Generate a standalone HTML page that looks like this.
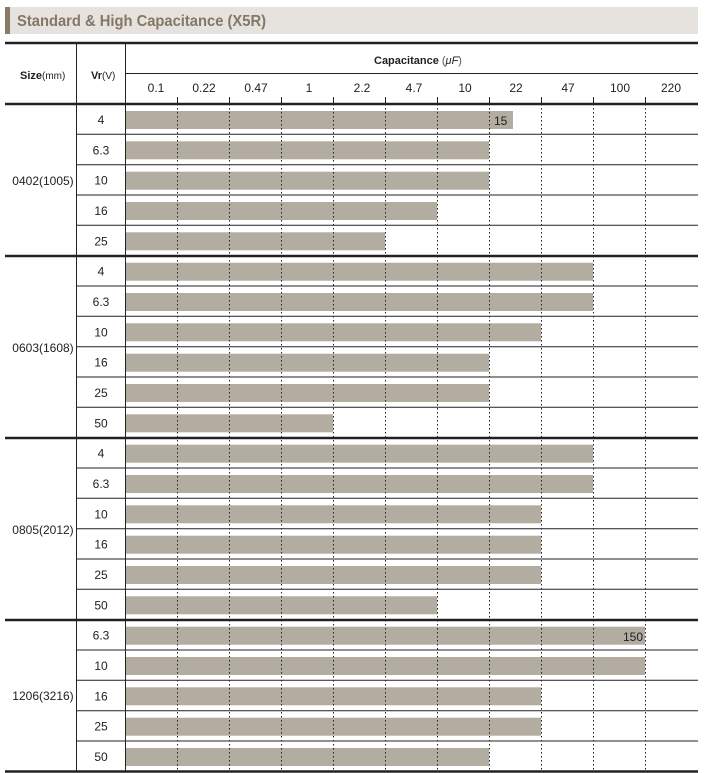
<!DOCTYPE html>
<html><head><meta charset="utf-8"><style>
html,body{margin:0;padding:0;background:#fff}
svg{display:block}
text{font-family:"Liberation Sans",sans-serif;fill:#222}
</style></head><body>
<svg width="705" height="773" viewBox="0 0 705 773" xmlns="http://www.w3.org/2000/svg">
<rect x="5" y="7" width="693" height="27" fill="#e6e3de"/>
<rect x="5" y="7" width="5" height="27" fill="#8a7a68"/>
<text x="17" y="26" font-size="16" font-weight="bold" textLength="249" lengthAdjust="spacingAndGlyphs" style="fill:#857767">Standard &amp; High Capacitance (X5R)</text>

<g fill="#b3aca0">
<rect x="126" y="111" width="387" height="18"/>
<rect x="126" y="141.3" width="363" height="18"/>
<rect x="126" y="171.7" width="363" height="18"/>
<rect x="126" y="202" width="311" height="18"/>
<rect x="126" y="232.3" width="259" height="18"/>
<rect x="126" y="262.7" width="467" height="18"/>
<rect x="126" y="293" width="467" height="18"/>
<rect x="126" y="323.3" width="415" height="18"/>
<rect x="126" y="353.7" width="363" height="18"/>
<rect x="126" y="384" width="363" height="18"/>
<rect x="126" y="414.3" width="207" height="18"/>
<rect x="126" y="444.7" width="467" height="18"/>
<rect x="126" y="475" width="467" height="18"/>
<rect x="126" y="505.3" width="415" height="18"/>
<rect x="126" y="535.7" width="415" height="18"/>
<rect x="126" y="566" width="415" height="18"/>
<rect x="126" y="596.3" width="311" height="18"/>
<rect x="126" y="626.7" width="519" height="18"/>
<rect x="126" y="657" width="519" height="18"/>
<rect x="126" y="687.3" width="415" height="18"/>
<rect x="126" y="717.7" width="415" height="18"/>
<rect x="126" y="748" width="363" height="18"/>
</g>
<text x="494" y="125" font-size="12">15</text>
<text x="623" y="641" font-size="12">150</text>

<g stroke="#222" stroke-width="1" stroke-dasharray="1.5,2.5">
<line x1="177.5" y1="104" x2="177.5" y2="771"/>
<line x1="229.5" y1="104" x2="229.5" y2="771"/>
<line x1="281.5" y1="104" x2="281.5" y2="771"/>
<line x1="333.5" y1="104" x2="333.5" y2="771"/>
<line x1="385.5" y1="104" x2="385.5" y2="771"/>
<line x1="437.5" y1="104" x2="437.5" y2="771"/>
<line x1="489.5" y1="104" x2="489.5" y2="771"/>
<line x1="541.5" y1="104" x2="541.5" y2="771"/>
<line x1="593.5" y1="104" x2="593.5" y2="771"/>
<line x1="645.5" y1="104" x2="645.5" y2="771"/>
</g>
<g stroke="#222" stroke-width="1">
<line x1="177.5" y1="97" x2="177.5" y2="104"/>
<line x1="229.5" y1="97" x2="229.5" y2="104"/>
<line x1="281.5" y1="97" x2="281.5" y2="104"/>
<line x1="333.5" y1="97" x2="333.5" y2="104"/>
<line x1="385.5" y1="97" x2="385.5" y2="104"/>
<line x1="437.5" y1="97" x2="437.5" y2="104"/>
<line x1="489.5" y1="97" x2="489.5" y2="104"/>
<line x1="541.5" y1="97" x2="541.5" y2="104"/>
<line x1="593.5" y1="97" x2="593.5" y2="104"/>
<line x1="645.5" y1="97" x2="645.5" y2="104"/>
<line x1="125.5" y1="73.5" x2="698" y2="73.5"/>
<line x1="76.5" y1="43" x2="76.5" y2="771"/>
<line x1="125.5" y1="43" x2="125.5" y2="771"/>
<line x1="77" y1="134.3" x2="698" y2="134.3"/>
<line x1="77" y1="164.7" x2="698" y2="164.7"/>
<line x1="77" y1="195" x2="698" y2="195"/>
<line x1="77" y1="225.3" x2="698" y2="225.3"/>
<line x1="77" y1="286" x2="698" y2="286"/>
<line x1="77" y1="316.3" x2="698" y2="316.3"/>
<line x1="77" y1="346.7" x2="698" y2="346.7"/>
<line x1="77" y1="377" x2="698" y2="377"/>
<line x1="77" y1="407.3" x2="698" y2="407.3"/>
<line x1="77" y1="468" x2="698" y2="468"/>
<line x1="77" y1="498.3" x2="698" y2="498.3"/>
<line x1="77" y1="528.7" x2="698" y2="528.7"/>
<line x1="77" y1="559" x2="698" y2="559"/>
<line x1="77" y1="589.3" x2="698" y2="589.3"/>
<line x1="77" y1="650" x2="698" y2="650"/>
<line x1="77" y1="680.3" x2="698" y2="680.3"/>
<line x1="77" y1="710.7" x2="698" y2="710.7"/>
<line x1="77" y1="741" x2="698" y2="741"/>
</g>
<g stroke="#222" stroke-width="2.5">
<line x1="5" y1="43" x2="698" y2="43"/>
<line x1="5" y1="104" x2="698" y2="104"/>
<line x1="5" y1="256" x2="698" y2="256"/>
<line x1="5" y1="438" x2="698" y2="438"/>
<line x1="5" y1="620" x2="698" y2="620"/>
<line x1="5" y1="771.5" x2="698" y2="771.5"/>
</g>

<text x="20" y="79" font-size="11" font-weight="bold">Size<tspan font-weight="normal" font-size="10">(mm)</tspan></text>
<text x="91" y="79" font-size="11" font-weight="bold">Vr<tspan font-weight="normal" font-size="10">(V)</tspan></text>
<text x="374" y="64" font-size="11" font-weight="bold">Capacitance <tspan font-weight="normal" style="fill:#555">(</tspan><tspan font-weight="normal" font-style="italic">μF</tspan><tspan font-weight="normal" style="fill:#555">)</tspan></text>
<g font-size="12" text-anchor="middle">
<text x="156" y="92">0.1</text>
<text x="204" y="92">0.22</text>
<text x="256" y="92">0.47</text>
<text x="309" y="92">1</text>
<text x="362" y="92">2.2</text>
<text x="414" y="92">4.7</text>
<text x="465" y="92">10</text>
<text x="516" y="92">22</text>
<text x="568" y="92">47</text>
<text x="620" y="92">100</text>
<text x="671" y="92">220</text>
</g>

<g font-size="12" text-anchor="middle">
<text x="43" y="185">0402(1005)</text>
<text x="43" y="352">0603(1608)</text>
<text x="43" y="534">0805(2012)</text>
<text x="43" y="700">1206(3216)</text>
</g>
<g font-size="12" text-anchor="middle">
<text x="101" y="124">4</text>
<text x="101" y="154.3">6.3</text>
<text x="101" y="184.7">10</text>
<text x="101" y="215">16</text>
<text x="101" y="245.3">25</text>
<text x="101" y="275.7">4</text>
<text x="101" y="306">6.3</text>
<text x="101" y="336.3">10</text>
<text x="101" y="366.7">16</text>
<text x="101" y="397">25</text>
<text x="101" y="427.3">50</text>
<text x="101" y="457.7">4</text>
<text x="101" y="488">6.3</text>
<text x="101" y="518.3">10</text>
<text x="101" y="548.7">16</text>
<text x="101" y="579">25</text>
<text x="101" y="609.3">50</text>
<text x="101" y="639.7">6.3</text>
<text x="101" y="670">10</text>
<text x="101" y="700.3">16</text>
<text x="101" y="730.7">25</text>
<text x="101" y="761">50</text>
</g>
</svg>
</body></html>
